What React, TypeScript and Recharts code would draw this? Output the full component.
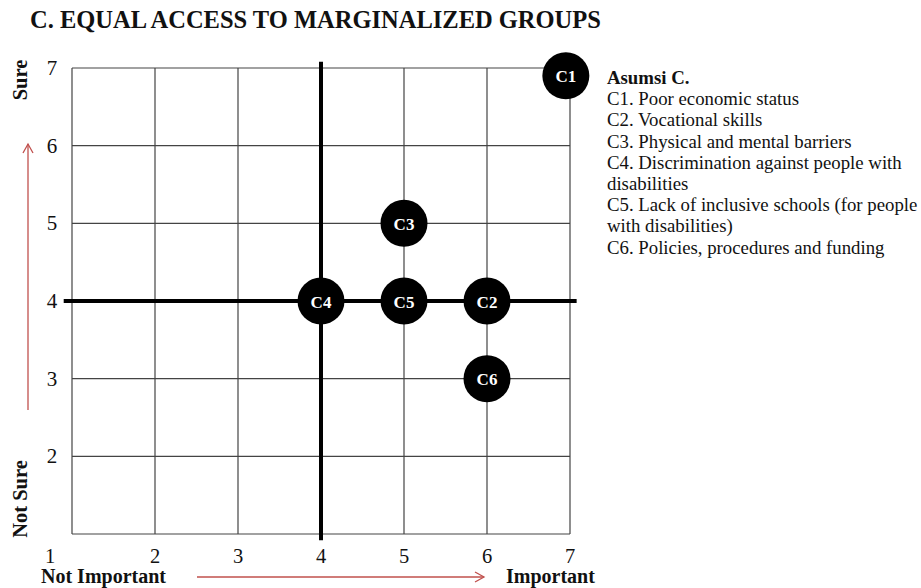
import React from 'react'
import {
  CartesianGrid,
  ReferenceLine,
  Scatter,
  ScatterChart,
  XAxis,
  YAxis,
} from 'recharts'

const labels = ['C1', 'C2', 'C3', 'C4', 'C5', 'C6']
const importance = [6.95, 6, 5, 4, 5, 6]
const sureness = [6.9, 4, 5, 4, 4, 3]

const xTicks = [1, 2, 3, 4, 5, 6, 7]
const yTicks = [2, 3, 4, 5, 6, 7]

const legendTitle = 'Asumsi C.'
const legendLines = [
  'C1. Poor economic status',
  'C2. Vocational skills',
  'C3. Physical and mental barriers',
  'C4. Discrimination against people with',
  'disabilities',
  'C5. Lack of inclusive schools (for people',
  'with disabilities)',
  'C6. Policies, procedures and funding',
]

const points = labels.map((name, i) => ({
  name,
  x: importance[i],
  y: sureness[i],
}))

const serif = '"Liberation Serif", "Times New Roman", serif'
const red = '#c0504d'

const Bubble = (props: any) => {
  const { cx, cy, payload } = props
  return (
    <g>
      <circle cx={cx} cy={cy} r={23.5} fill="#000" />
      <text
        x={cx}
        y={cy + 1}
        textAnchor="middle"
        dominantBaseline="central"
        fill="#fff"
        fontFamily={serif}
        fontWeight="bold"
        fontSize={17}
      >
        {payload.name}
      </text>
    </g>
  )
}

const XTick = (props: any) => {
  const { x, y, payload } = props
  const shift = payload.value === 1 ? -22 : 0
  return (
    <text
      x={x + shift}
      y={y + 14}
      textAnchor="middle"
      dominantBaseline="central"
      fontFamily={serif}
      fontSize={20.5}
      fill="#111"
    >
      {payload.value}
    </text>
  )
}

const YTick = (props: any) => {
  const { y, payload } = props
  return (
    <text
      x={52}
      y={y}
      textAnchor="middle"
      dominantBaseline="central"
      fontFamily={serif}
      fontSize={21}
      fill="#111"
    >
      {payload.value}
    </text>
  )
}

export default function App() {
  return (
    <div
      style={{
        position: 'absolute',
        left: 0,
        top: 0,
        width: 921,
        height: 588,
        background: '#fff',
        fontFamily: serif,
        color: '#111',
      }}
    >
      <div
        style={{
          position: 'absolute',
          left: 30,
          top: 6,
          fontSize: 24.5,
          fontWeight: 'bold',
          lineHeight: '28px',
          whiteSpace: 'nowrap',
        }}
      >
        C. EQUAL ACCESS TO MARGINALIZED GROUPS
      </div>

      <ScatterChart
        width={921}
        height={588}
        margin={{ top: 68, right: 351, bottom: 0, left: 0 }}
        style={{ position: 'absolute', left: 0, top: 0 }}
      >
        <CartesianGrid stroke="#444" strokeWidth={1.2} />
        <XAxis
          type="number"
          dataKey="x"
          domain={[1, 7]}
          ticks={xTicks}
          height={54}
          axisLine={false}
          tickLine={false}
          tick={<XTick />}
          interval={0}
        />
        <YAxis
          type="number"
          dataKey="y"
          domain={[1, 7]}
          ticks={yTicks}
          width={72}
          axisLine={false}
          tickLine={false}
          tick={<YTick />}
          interval={0}
        />
        <ReferenceLine
          segment={[
            { x: 4, y: 0.92 },
            { x: 4, y: 7.08 },
          ]}
          stroke="#000"
          strokeWidth={4}
          ifOverflow="visible"
        />
        <ReferenceLine
          segment={[
            { x: 0.9, y: 4 },
            { x: 7.08, y: 4 },
          ]}
          stroke="#000"
          strokeWidth={4}
          ifOverflow="visible"
        />
        <Scatter
          data={points}
          shape={<Bubble />}
          isAnimationActive={false}
        />
      </ScatterChart>

      <svg
        width={921}
        height={588}
        style={{ position: 'absolute', left: 0, top: 0, pointerEvents: 'none' }}
      >
        <text
          transform="translate(20 80) rotate(-90)"
          textAnchor="middle"
          dominantBaseline="central"
          fontFamily={serif}
          fontWeight="bold"
          fontSize={20.5}
          fill="#111"
        >
          Sure
        </text>
        <text
          transform="translate(20 499) rotate(-90)"
          textAnchor="middle"
          dominantBaseline="central"
          fontFamily={serif}
          fontWeight="bold"
          fontSize={20.5}
          fill="#111"
        >
          Not Sure
        </text>
        <line x1={28} y1={410} x2={28} y2={144} stroke={red} strokeWidth={1.3} />
        <polyline
          points="23,153 28,144 33,153"
          fill="none"
          stroke={red}
          strokeWidth={1.3}
        />
        <text
          x={41}
          y={576}
          dominantBaseline="central"
          fontFamily={serif}
          fontWeight="bold"
          fontSize={20}
          fill="#111"
        >
          Not Important
        </text>
        <text
          x={506}
          y={576}
          dominantBaseline="central"
          fontFamily={serif}
          fontWeight="bold"
          fontSize={20}
          fill="#111"
        >
          Important
        </text>
        <line x1={197} y1={577} x2={484} y2={577} stroke={red} strokeWidth={1.3} />
        <polyline
          points="475,572 484,577 475,582"
          fill="none"
          stroke={red}
          strokeWidth={1.3}
        />
      </svg>

      <div
        style={{
          position: 'absolute',
          left: 607,
          top: 67,
          fontSize: 18.8,
          lineHeight: '21.2px',
          whiteSpace: 'nowrap',
        }}
      >
        <div style={{ fontWeight: 'bold' }}>{legendTitle}</div>
        {legendLines.map((line) => (
          <div key={line}>{line}</div>
        ))}
      </div>
    </div>
  )
}
